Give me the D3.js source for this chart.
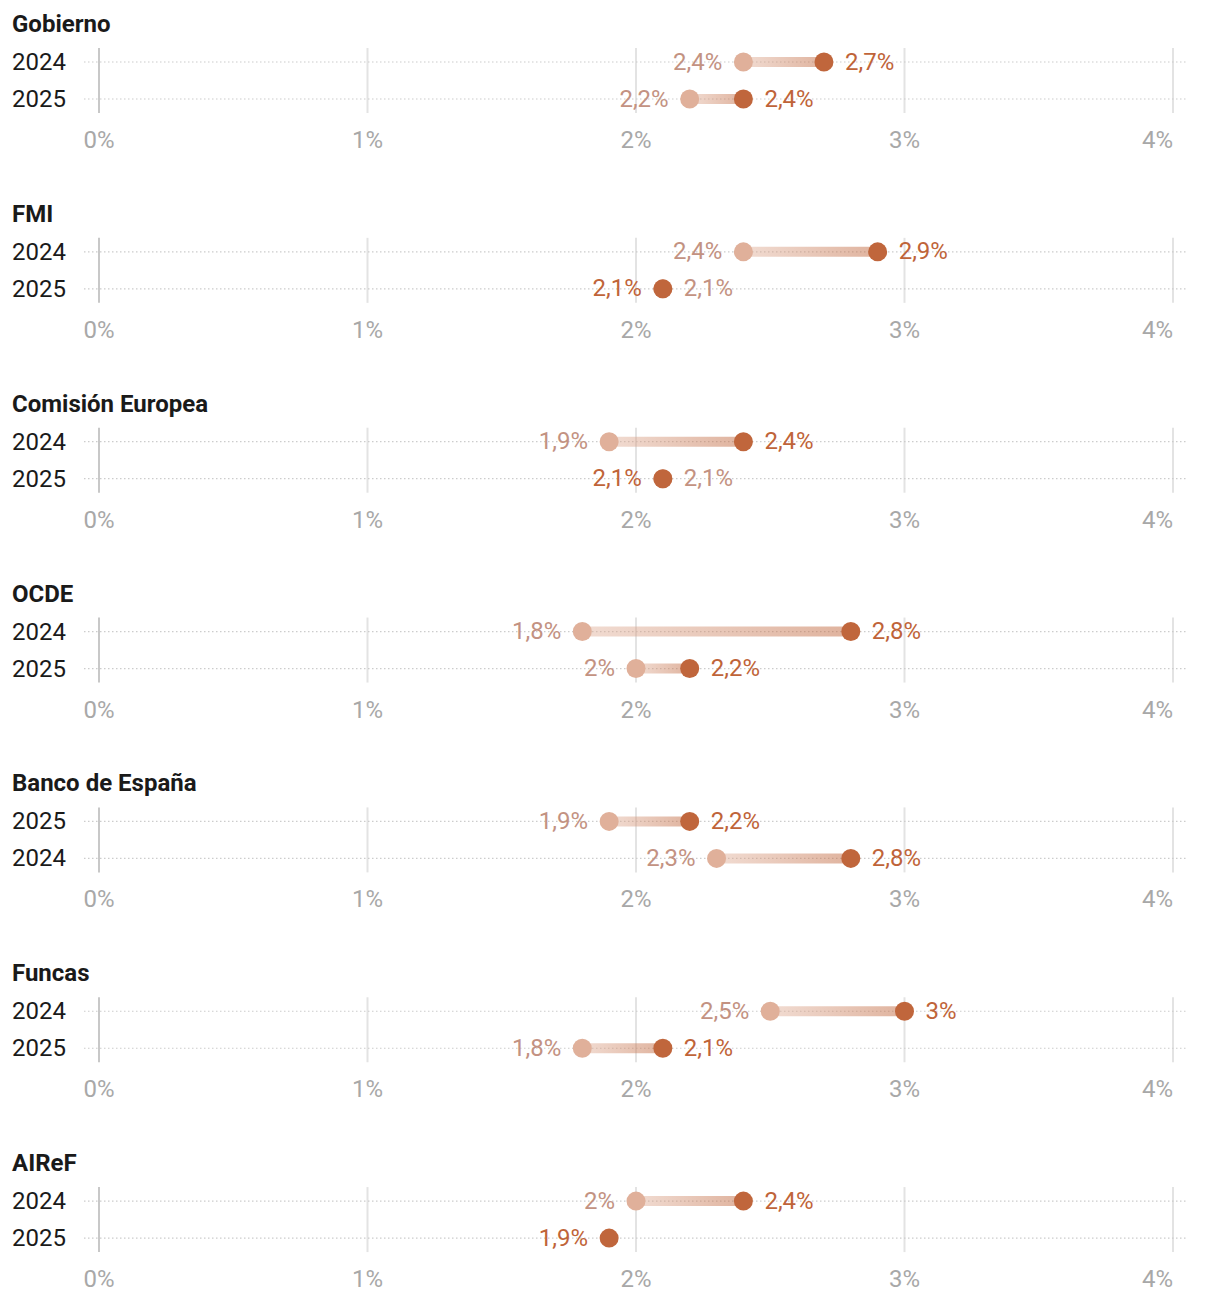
<!DOCTYPE html>
<html><head><meta charset="utf-8">
<script src="https://cdn.jsdelivr.net/npm/d3@7"></script>
<style>
html,body{margin:0;padding:0;background:#fff;}
svg{display:block;font-family:Roboto,"Noto Sans",sans-serif;}
</style></head>
<body><svg id="chart" width="1220" height="1298"></svg>
<script>
// ---- data ----
const institutions = ["Gobierno","FMI","Comisión Europea","OCDE","Banco de España","Funcas","AIReF"];
const rowYears = [["2024","2025"],["2024","2025"],["2024","2025"],["2024","2025"],["2025","2024"],["2024","2025"],["2024","2025"]];
// previous forecast (light) and latest forecast (dark), per institution, per row
const previousForecast = [[2.4,2.2],[2.4,2.1],[1.9,2.1],[1.8,2.0],[1.9,2.3],[2.5,1.8],[2.0,null]];
const latestForecast   = [[2.7,2.4],[2.9,2.1],[2.4,2.1],[2.8,2.2],[2.2,2.8],[3.0,2.1],[2.4,1.9]];
const tickValues = [0,1,2,3,4];
const tickLabels = ["0%","1%","2%","3%","4%"];

// ---- style ----
const lightDot = "#e0b09a", darkDot = "#c0663c";
const lightText = "#c39282", darkText = "#bf6439";
const fmt = v => String(v).replace(".", ",") + "%";

const svg = d3.select("#chart");
const x = d3.scaleLinear().domain([0,4]).range([99,1173]);
const panelY = d3.scaleLinear().domain([0,1]).range([0,189.85]);
const defs = svg.append("defs");

institutions.forEach((name,i)=>{
  const g = svg.append("g").attr("transform",`translate(0,${panelY(i)})`);
  const y = d3.scalePoint().domain(rowYears[i]).range([62,99]);

  g.append("text").attr("x",12).attr("y",32).attr("font-size",24).attr("font-weight",700)
    .attr("fill","#1a1a1a").text(name);

  // vertical gridlines
  g.selectAll("line.v").data(tickValues).join("line").attr("class","v")
    .attr("x1",d=>x(d)).attr("x2",d=>x(d)).attr("y1",48).attr("y2",113)
    .attr("stroke",d=>d===0?"#c8c8c8":"#e3e3e3").attr("stroke-width",2);

  // tick labels
  g.selectAll("text.t").data(tickValues).join("text").attr("class","t")
    .attr("x",d=>x(d)).attr("y",148)
    .attr("text-anchor",(d,j)=>j===tickValues.length-1?"end":"middle")
    .attr("font-size",24).attr("fill","#a8a8a8").text((d,j)=>tickLabels[j]);

  rowYears[i].forEach((yr,r)=>{
    const cy = y(yr);
    g.append("text").attr("x",12).attr("y",cy+8).attr("font-size",24).attr("fill","#1a1a1a").text(yr);
    g.append("line").attr("x1",84).attr("x2",1186).attr("y1",cy).attr("y2",cy)
      .attr("stroke","#cccccc").attr("stroke-width",1.2).attr("stroke-dasharray","1.5,2.5");

    const a = previousForecast[i][r], b = latestForecast[i][r];
    if(a!==null && a!==b){
      const id = `grad${i}_${r}`;
      const gr = defs.append("linearGradient").attr("id",id).attr("gradientUnits","userSpaceOnUse")
        .attr("x1",x(a)).attr("x2",x(b)).attr("y1",0).attr("y2",0);
      gr.append("stop").attr("offset","0%").attr("stop-color",lightDot).attr("stop-opacity",0.45);
      gr.append("stop").attr("offset","100%").attr("stop-color",darkDot).attr("stop-opacity",0.5);
      g.append("line").attr("x1",x(a)).attr("x2",x(b)).attr("y1",cy).attr("y2",cy)
        .attr("stroke",`url(#${id})`).attr("stroke-width",10);
    }
    if(a!==null) g.append("circle").attr("cx",x(a)).attr("cy",cy).attr("r",9.5).attr("fill",lightDot);
    g.append("circle").attr("cx",x(b)).attr("cy",cy).attr("r",9.5).attr("fill",darkDot);

    const lab = (v,side,col)=>g.append("text")
      .attr("x",x(v)+(side<0?-21:21)).attr("y",cy+7.5)
      .attr("text-anchor",side<0?"end":"start").attr("font-size",24).attr("fill",col).text(fmt(v));
    if(a===null){ lab(b,-1,darkText); }
    else if(a===b){ lab(b,-1,darkText); lab(a,1,lightText); }
    else if(a<b){ lab(a,-1,lightText); lab(b,1,darkText); }
    else { lab(b,-1,darkText); lab(a,1,lightText); }
  });
});
</script></body></html>
